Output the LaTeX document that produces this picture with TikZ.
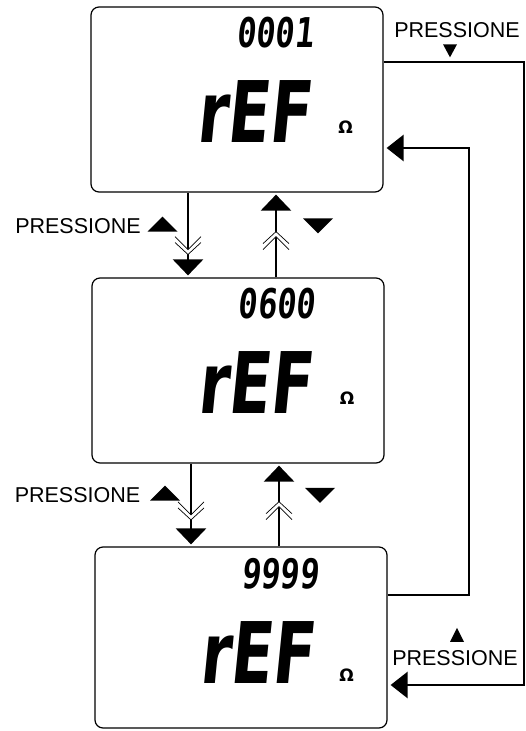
\documentclass[tikz,border=0pt]{standalone}
\usepackage{fontspec}
\setmainfont{Liberation Sans}
\newfontfamily\lcdfont{DejaVu Sans Bold}[FakeSlant=0.1,FakeStretch=0.72]
\newfontfamily\digfont{DejaVu Sans Mono Bold}[FakeSlant=0.1,FakeStretch=0.78]
\newfontfamily\ohmfont{DejaVu Sans Bold}
\usetikzlibrary{positioning,arrows.meta,calc,shapes.geometric,decorations.markings}
\tikzset{
  lcd/.style={rectangle,draw=black,line width=1.2pt,rounded corners=8pt,
    minimum width=292pt,minimum height=185pt,inner sep=0pt},
  num/.style={font=\digfont\fontsize{41}{41}\selectfont,inner sep=0pt,anchor=base},
  big/.style={font=\lcdfont\fontsize{85}{85}\selectfont,inner sep=0pt,anchor=base},
  ohm/.style={font=\ohmfont\fontsize{17}{17}\selectfont,inner sep=0pt},
  lbl/.style={font=\fontsize{21.5}{24}\selectfont,inner sep=0pt,anchor=base},
  keyup/.style={isosceles triangle,isosceles triangle stretches,shape border rotate=90,
    fill=black,inner sep=0pt,minimum width=30pt,minimum height=15pt},
  keydown/.style={keyup,shape border rotate=-90},
  smallup/.style={keyup,minimum width=14pt,minimum height=14pt},
  smalldown/.style={keydown,minimum width=14pt,minimum height=13pt},
  flow/.style={-{Triangle[width=30pt,length=16pt]},line width=2.6pt,shorten >=2pt},
  back/.style={-{Triangle[width=26pt,length=17pt]},line width=2.8pt,shorten >=3pt},
  chev/.style={postaction={decorate,decoration={markings,mark=at position #1 with {
    \fill[white] (-18pt,-13pt) -- (-5pt,0pt) -- (-18pt,13pt) -- (-12pt,13pt) -- (0pt,0pt) -- (-12pt,-13pt) -- cycle;
    \draw[-,shorten >=0pt,line width=0.7pt] (-18pt,-13pt) -- (-5pt,0pt) -- (-18pt,13pt)
      (-12pt,-13pt) -- (0pt,0pt) -- (-12pt,13pt);}}}},
}
\begin{document}
\begin{tikzpicture}[x=1pt,y=-1pt]
  \useasboundingbox (0,0) rectangle (526,731);
  % tri displeje
  \node[lcd] (b1) at (237,99.5) {};
  \node[lcd] (b2) at (238,370.5) {};
  \node[lcd,minimum height=181pt] (b3) at (241,637.5) {};
  % obsah displeju
  \node[num] (n1) at (275,47) {0001};
  \node[big] (r1) at (253,142) {rEF};
  \node[ohm] (o1) at (345.5,127.5) {Ω};
  \node[num] (n2) at (276.5,318) {0600};
  \node[big] (r2) at (254,413) {rEF};
  \node[ohm] (o2) at (347,398.5) {Ω};
  \node[num] (n3) at (280,588) {9999};
  \node[big] (r3) at (256.5,683) {rEF};
  \node[ohm] (o3) at (346.5,675) {Ω};
  % sipky mezi displeji
  \draw[flow,chev=0.73] ([xshift=-49pt]b1.south) -- ([xshift=-50pt]b2.north);
  \draw[flow,chev=0.54] ([xshift=38pt]b2.north) -- ([xshift=39pt]b1.south);
  \draw[flow,chev=0.68] ([xshift=-47pt]b2.south) -- ([xshift=-50pt]b3.north);
  \draw[flow,chev=0.54] ([xshift=38pt]b3.north) -- ([xshift=41pt]b2.south);
  % popisky vlevo
  \node[lbl] (p1) at (78,233) {PRESSIONE};
  \node[keyup] (k1) at (162.5,225.5) {};
  \node[keydown] (k2) at (318,224.5) {};
  \node[lbl] (p2) at (77.5,502) {PRESSIONE};
  \node[keyup] (k3) at (165,494.5) {};
  \node[keydown] (k4) at (320,494) {};
  % vnejsi smycka: 0001 -> 9999
  \coordinate (c1) at (524,62);
  \coordinate (c2) at (524,685);
  \draw[back] (b1.east |- c1) -- (c1) -- (c2) -- (b3.east |- c2);
  \node[lbl] (p3) at (457,37) {PRESSIONE};
  \node[smalldown] (k5) at (450,48.5) {};
  % vnitrni smycka: 9999 -> 0001
  \coordinate (c3) at (469,595);
  \coordinate (c4) at (469,148);
  \draw[back] (b3.east |- c3) -- (c3) -- (c4) -- (b1.east |- c4);
  \node[lbl] (p4) at (455,665) {PRESSIONE};
  \node[smallup] (k6) at (457,637.5) {};
\end{tikzpicture}
\end{document}
